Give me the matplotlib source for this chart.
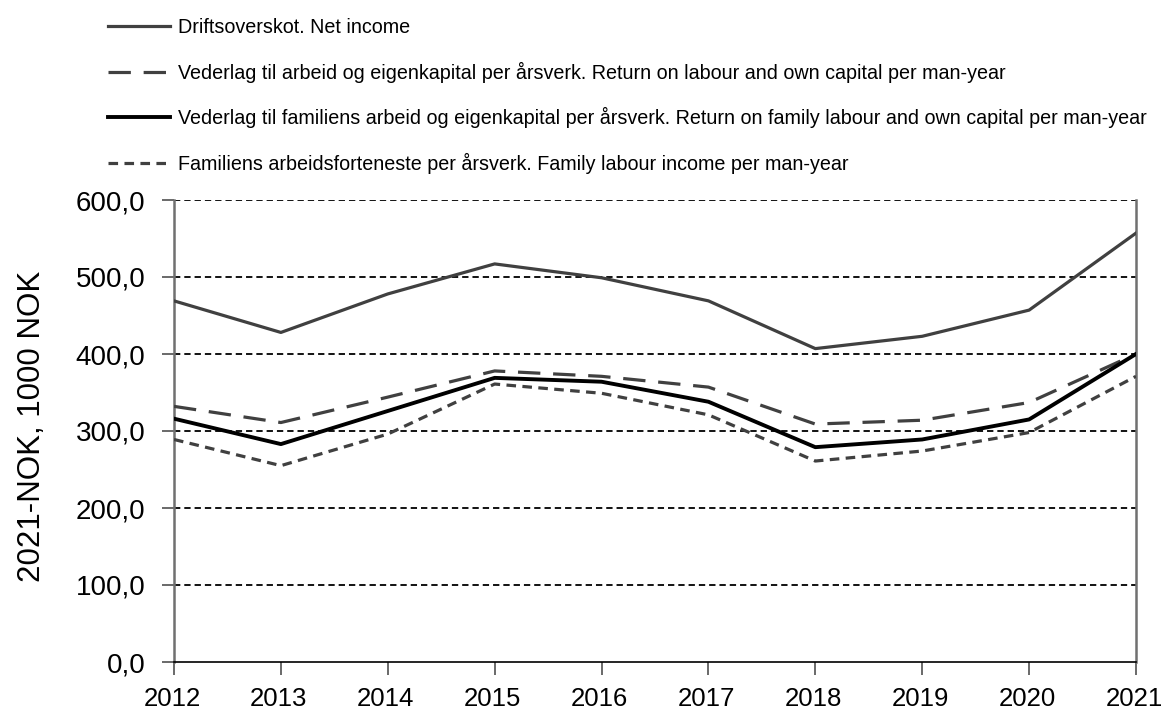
import matplotlib
matplotlib.use("Agg")
import matplotlib.pyplot as plt
import matplotlib.transforms as mtransforms

years = [2012, 2013, 2014, 2015, 2016, 2017, 2018, 2019, 2020, 2021]
net_income = [469, 428, 478, 517, 499, 469, 407, 423, 457, 557]
return_labour = [332, 311, 344, 378, 371, 357, 309, 314, 337, 400]
return_family = [316, 283, 326, 369, 364, 338, 279, 289, 315, 400]
family_labour_income = [289, 255, 296, 361, 349, 321, 261, 274, 298, 371]

labels = [
    "Driftsoverskot. Net income",
    "Vederlag til arbeid og eigenkapital per årsverk. Return on labour and own capital per man-year",
    "Vederlag til familiens arbeid og eigenkapital per årsverk. Return on family labour and own capital per man-year",
    "Familiens arbeidsforteneste per årsverk. Family labour income per man-year",
]
yticks = [0, 100, 200, 300, 400, 500, 600]
ytick_labels = ["0,0", "100,0", "200,0", "300,0", "400,0", "500,0", "600,0"]

plt.rcParams['font.family'] = ['Liberation Sans', 'DejaVu Sans']

fig = plt.figure(figsize=(11.64, 7.09), dpi=100)
ax = fig.add_axes([174/1164, 1-662/709, (1136-174)/1164, (662-200)/709])

for y in yticks[1:]:
    ax.axhline(y, color='black', lw=1.3, ls=(0, (3.5, 2.2)), zorder=1)

l1, = ax.plot(years, net_income, color='#404040', lw=2.3, zorder=3)
l2, = ax.plot(years, return_labour, color='#404040', lw=2.3, ls=(0, (7, 4)), zorder=3)
l3, = ax.plot(years, return_family, color='black', lw=2.8, zorder=4)
l4, = ax.plot(years, family_labour_income, color='#404040', lw=2.3, ls=(0, (3, 2)), zorder=3)

ax.set_xlim(2012, 2021)
ax.set_ylim(0, 600)
ax.set_xticks(years)
ax.set_xticklabels([str(y) for y in years], fontsize=18.5)
ax.set_yticks(yticks)
ax.set_yticklabels(ytick_labels, fontsize=20)
ax.tick_params(axis='both', direction='out', length=9, width=1.2, color='#505050')
ax.tick_params(axis='x', pad=9)
ax.tick_params(axis='y', pad=11.5)
shift = mtransforms.ScaledTranslation(-2/100, 0, fig.dpi_scale_trans)
for lab in ax.get_xticklabels():
    lab.set_transform(lab.get_transform() + shift)

ax.spines['top'].set_visible(False)
ax.spines['left'].set_color('#707070')
ax.spines['right'].set_color('#707070')
ax.spines['left'].set_linewidth(1.8)
ax.spines['right'].set_linewidth(1.8)
ax.spines['bottom'].set_color('black')
ax.spines['bottom'].set_linewidth(1.2)
ax.set_ylabel("2021-NOK, 1000 NOK", fontsize=22.5)
ax.yaxis.set_label_coords((47-174)/962, 0.51)

fig.legend([l1, l2, l3, l4], labels, loc='upper left', bbox_to_anchor=(100/1164, 1-10/709),
           frameon=False, fontsize=14.2, handlelength=3.15, handletextpad=0.4,
           labelspacing=1.25, borderaxespad=0)

fig.savefig("out.png", dpi=100)
